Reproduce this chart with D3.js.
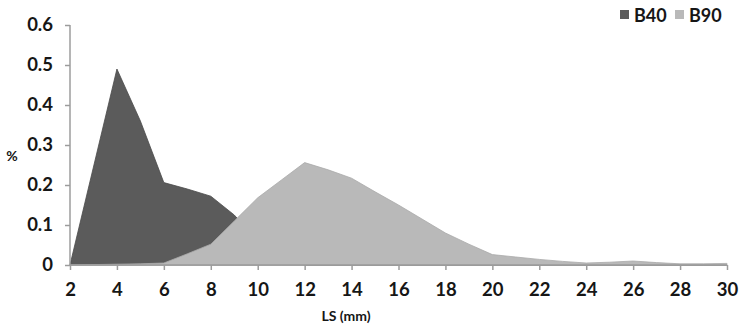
<!DOCTYPE html>
<html>
<head>
<meta charset="utf-8">
<script src="https://cdn.jsdelivr.net/npm/d3@7"></script>
<style>
  html, body { margin: 0; padding: 0; background: #fff; }
  svg { display: block; }
  text { font-family: Lato, "Open Sans", sans-serif; font-weight: 700; fill: #161616; }
</style>
</head>
<body>
<svg id="chart" width="739" height="327"></svg>
<script>
// LS classes (mm)
const lengths = [2, 3, 4, 5, 6, 7, 8, 9, 10, 11, 12, 13, 14, 15, 16, 17, 18, 19, 20, 21, 22, 23, 24, 25, 26, 27, 28, 29, 30];
// Frequency distribution of B40
const b40 = [0, 0.245, 0.49, 0.36, 0.206, 0.19, 0.172, 0.125, 0.06, 0.02, 0, 0, 0, 0, 0, 0, 0, 0, 0, 0, 0, 0, 0, 0, 0, 0, 0, 0, 0];
// Frequency distribution of B90
const b90 = [0, 0.001, 0.002, 0.003, 0.005, 0.028, 0.052, 0.11, 0.168, 0.212, 0.256, 0.238, 0.217, 0.183, 0.15, 0.115, 0.08, 0.052, 0.026, 0.02, 0.014, 0.009, 0.005, 0.007, 0.01, 0.006, 0.003, 0.003, 0.004];
const xTicks = [2, 4, 6, 8, 10, 12, 14, 16, 18, 20, 22, 24, 26, 28, 30];
const yTicks = [0, 0.1, 0.2, 0.3, 0.4, 0.5, 0.6];
const seriesNames = ["B40", "B90"];

const colors = { B40: "#5b5b5b", B90: "#b9b9b9" };
const axisColor = "#9c9c9c";

const svg = d3.select("#chart");
const x = d3.scaleLinear().domain([2, 30]).range([70, 727]);
const y = d3.scaleLinear().domain([0, 0.6]).range([265, 25]);

const area = d3.area()
  .x((d, i) => x(lengths[i]))
  .y0(y(0))
  .y1(d => y(d));

// Areas: B40 behind, B90 in front
svg.append("path").datum(b40)
  .attr("d", area)
  .attr("fill", colors.B40)
  .attr("stroke", "#4a4a4a").attr("stroke-width", 0.8);
svg.append("path").datum(b90)
  .attr("d", area)
  .attr("fill", colors.B90)
  .attr("stroke", "#aaaaaa").attr("stroke-width", 0.8);

// Y axis
const yAxis = d3.axisLeft(y).tickValues(yTicks).tickSize(5)
  .tickFormat(d => d === 0 ? "0" : d3.format(".1f")(d)).tickPadding(12);
const gy = svg.append("g").attr("transform", `translate(${x(2)},0)`).call(yAxis);
gy.select(".domain").attr("stroke", axisColor).attr("stroke-width", 1.5).attr("d", `M-0,${y(0.6)}V${y(0)}`);
gy.selectAll(".tick line").attr("stroke", axisColor).attr("stroke-width", 1.5);
gy.selectAll(".tick text").style("font-size", "18.5px").attr("fill", "#161616");

// X axis
const xAxis = d3.axisBottom(x).tickValues(xTicks).tickSize(5).tickPadding(13);
const gx = svg.append("g").attr("transform", `translate(0,${y(0)})`).call(xAxis);
gx.select(".domain").attr("stroke", axisColor).attr("stroke-width", 1.5).attr("d", `M${x(2)},0H${x(30)}`);
gx.selectAll(".tick line").attr("stroke", axisColor).attr("stroke-width", 1.5);
gx.selectAll(".tick text").style("font-size", "18.5px").attr("fill", "#161616");

// Axis titles
svg.append("text").attr("x", 12).attr("y", 161).attr("text-anchor", "middle")
  .style("font-size", "14px").text("%");
svg.append("text").attr("x", 346).attr("y", 321).attr("text-anchor", "middle")
  .style("font-size", "14px").text("LS (mm)");

// Legend
const legendX = [620, 675];
seriesNames.forEach((name, i) => {
  svg.append("rect").attr("x", legendX[i]).attr("y", 10).attr("width", 9).attr("height", 9)
    .attr("fill", colors[name]);
  svg.append("text").attr("x", legendX[i] + 14).attr("y", 21.5)
    .style("font-size", "18px").text(name);
});
</script>
</body>
</html>
